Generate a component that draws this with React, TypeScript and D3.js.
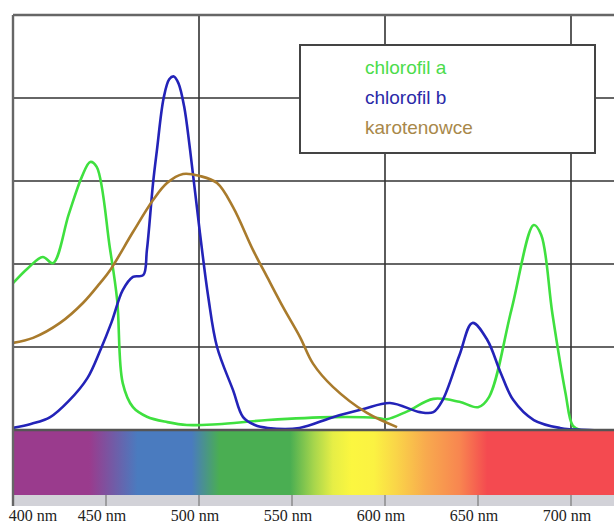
import * as d3 from "d3";

// wavelength (nm) / relative absorbance pairs
const chlAWl = [400, 408, 416, 421.5, 430, 437, 441.5, 445, 452, 456, 459, 464.5, 472, 483, 493.5, 510, 537, 572, 596, 601, 612, 626, 640, 650, 656, 668, 680, 684, 690, 697, 701, 705, 750];
const chlAVal = [0.354, 0.39, 0.417, 0.402, 0.52, 0.61, 0.646, 0.634, 0.441, 0.313, 0.113, 0.055, 0.032, 0.019, 0.012, 0.014, 0.024, 0.031, 0.029, 0.026, 0.045, 0.075, 0.068, 0.055, 0.08, 0.29, 0.494, 0.47, 0.28, 0.09, 0.01, 0, 0];

const chlBWl = [400, 410, 420, 430, 440, 447, 453, 459, 464.5, 470, 472, 475.3, 477.4, 481, 484, 486.5, 489, 492, 495.2, 500.5, 505, 509.7, 518.3, 523.7, 530, 537, 554, 572, 588, 602.7, 618.8, 626, 631, 640, 647, 655, 662, 669, 680, 694, 710, 750];
const chlBVal = [0.005, 0.015, 0.031, 0.07, 0.125, 0.193, 0.26, 0.337, 0.369, 0.373, 0.434, 0.595, 0.675, 0.8, 0.845, 0.852, 0.835, 0.78, 0.675, 0.475, 0.32, 0.2, 0.096, 0.031, 0.012, 0.005, 0.005, 0.031, 0.05, 0.065, 0.043, 0.043, 0.072, 0.18, 0.258, 0.217, 0.14, 0.072, 0.024, 0.005, 0, 0];

const carWl = [400, 410.8, 425.3, 437.6, 446.8, 452.2, 464.5, 475.3, 482.8, 491.4, 500.5, 509.7, 518.3, 529, 536.6, 545.2, 554.3, 561.3, 572, 590.3, 606.5];
const carVal = [0.21, 0.222, 0.258, 0.306, 0.354, 0.385, 0.477, 0.554, 0.595, 0.617, 0.612, 0.595, 0.537, 0.434, 0.369, 0.296, 0.224, 0.16, 0.104, 0.041, 0.007];

const seriesNames = ["chlorofil a", "chlorofil b", "karotenowce"];
const seriesColors = ["#3fe03f", "#2323b8", "#a97b2c"];
const legendColors = ["#4bdc4b", "#2a2aa8", "#a8884a"];

const tickNm = [400, 450, 500, 550, 600, 650, 700];
const tickLabels = ["400 nm", "450 nm", "500 nm", "550 nm", "600 nm", "650 nm", "700 nm"];
const gridNm = [500, 600, 700];
const gridVal = [0.2, 0.4, 0.6, 0.8];

// visible spectrum colour stops
const specNm = [400, 441, 467, 496, 511, 549, 562, 572, 582, 594, 606, 622, 640, 655, 750];
const specCol = ["#9a3b8d", "#9a3b8d", "#4a7bbf", "#4a7bbf", "#4aae52", "#4aae52", "#a8d64c", "#e6ee46", "#fbf640", "#fbf242", "#fad548", "#f8aa4e", "#f88650", "#f44a50", "#f44a50"];

const W = 614;
const H = 524;

export default function App() {
  const x = d3.scaleLinear().domain([400, 750]).range([13, 664]);
  const y = d3.scaleLinear().domain([0, 1]).range([430, 15]);

  const line = d3
    .line<[number, number]>()
    .x((d) => x(d[0]))
    .y((d) => y(d[1]))
    .curve(d3.curveCatmullRom.alpha(0.5));

  const series = [
    chlAWl.map((w, i) => [w, chlAVal[i]] as [number, number]),
    chlBWl.map((w, i) => [w, chlBVal[i]] as [number, number]),
    carWl.map((w, i) => [w, carVal[i]] as [number, number]),
  ];

  const x0 = x(400);
  const x1 = x(750);

  return (
    <svg width={W} height={H} style={{ position: "fixed", left: 0, top: 0, background: "#fff" }}>
      <defs>
        <linearGradient id="spec" gradientUnits="userSpaceOnUse" x1={x0} x2={x1} y1={0} y2={0}>
          {specNm.map((n, i) => (
            <stop key={i} offset={(x(n) - x0) / (x1 - x0)} stopColor={specCol[i]} />
          ))}
        </linearGradient>
        <clipPath id="plot">
          <rect x={x0} y={y(1)} width={x1 - x0} height={y(0) - y(1)} />
        </clipPath>
      </defs>

      {/* grid */}
      {gridVal.map((v) => (
        <line key={v} x1={x0} x2={x1} y1={y(v)} y2={y(v)} stroke="#333" strokeWidth={1.6} />
      ))}
      {gridNm.map((n) => (
        <line key={n} x1={x(n)} x2={x(n)} y1={y(1)} y2={y(0)} stroke="#333" strokeWidth={1.6} />
      ))}

      {/* curves */}
      <g clipPath="url(#plot)">
        {series.map((s, i) => (
          <path key={i} d={line(s) ?? ""} fill="none" stroke={seriesColors[i]} strokeWidth={2.6} strokeLinejoin="round" />
        ))}
      </g>

      {/* spectrum strip + scale band */}
      <rect x={x0} y={y(0)} width={x1 - x0} height={65} fill="url(#spec)" />
      <rect x={x0} y={495} width={x1 - x0} height={11} fill="#d2d2d8" />
      {tickNm.map((n) => (
        <line key={n} x1={x(n)} x2={x(n)} y1={495} y2={506} stroke="#7a7a7a" strokeWidth={1.2} />
      ))}

      {/* frame */}
      <line x1={x0} x2={x1} y1={y(1)} y2={y(1)} stroke="#666" strokeWidth={2.4} />
      <line x1={x0} x2={x1} y1={y(0)} y2={y(0)} stroke="#555" strokeWidth={2.4} />
      <line x1={x0} x2={x0} y1={y(1)} y2={506} stroke="#666" strokeWidth={2.4} />

      {/* legend */}
      <rect x={300} y={45} width={295} height={108} fill="#fff" stroke="#444" strokeWidth={2} />
      {seriesNames.map((name, i) => (
        <text
          key={name}
          x={365}
          y={74 + i * 30}
          fill={legendColors[i]}
          fontFamily="'Liberation Sans', Arial, sans-serif"
          fontSize={19}
        >
          {name}
        </text>
      ))}

      {/* axis labels */}
      {tickNm.map((n, i) => (
        <text
          key={n}
          x={Math.max(x(n) - 4, 33)}
          y={521}
          textAnchor="middle"
          fill="#222"
          fontFamily="'Liberation Serif', 'Times New Roman', serif"
          fontSize={16}
        >
          {tickLabels[i]}
        </text>
      ))}
    </svg>
  );
}
